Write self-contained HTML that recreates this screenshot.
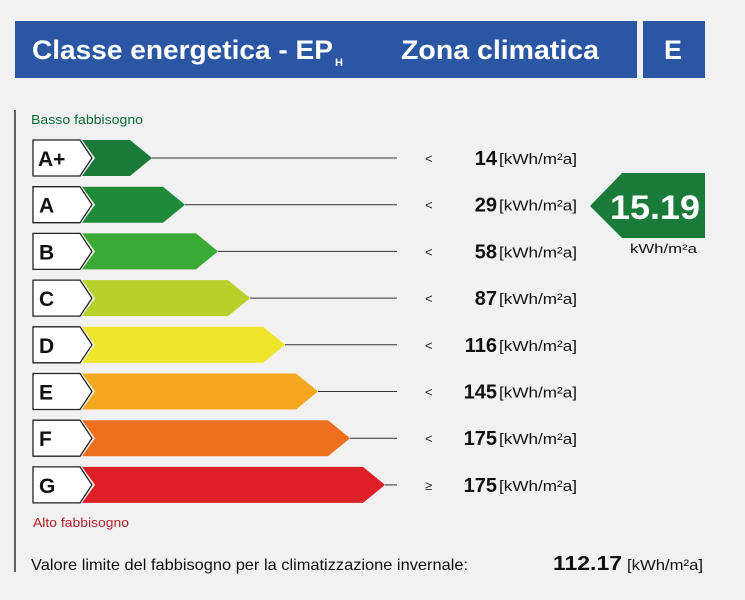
<!DOCTYPE html><html><head><style>body{margin:0;background:#f1f1f1}svg{display:block}text{font-family:"Liberation Sans",sans-serif}</style></head><body>
<svg width="745" height="600" viewBox="0 0 745 600">
<rect width="745" height="600" fill="#f1f1f1"/>
<rect x="15" y="21" width="622" height="57" fill="#2b56a3"/>
<rect x="643" y="21" width="62" height="57" fill="#2b56a3"/>
<text x="32" y="59" fill="#fff" font-size="27" font-weight="bold" textLength="301" lengthAdjust="spacingAndGlyphs">Classe energetica - EP</text>
<text x="335" y="66" fill="#fff" font-size="11" font-weight="bold">H</text>
<text x="401" y="59" fill="#fff" font-size="27" font-weight="bold" textLength="198" lengthAdjust="spacingAndGlyphs">Zona climatica</text>
<text x="664" y="59" fill="#fff" font-size="27" font-weight="bold">E</text>
<line x1="15" y1="110" x2="15" y2="572" stroke="#333" stroke-width="1.5"/>
<text x="31" y="124" fill="#0e6b3a" font-size="13" textLength="112" lengthAdjust="spacingAndGlyphs">Basso fabbisogno</text>
<text x="33" y="527" fill="#b0202a" font-size="13" textLength="96" lengthAdjust="spacingAndGlyphs">Alto fabbisogno</text>

<g stroke="#222" stroke-width="1.3" fill="#fff">
<polygon points="33,140 80,140 92,158 80,176 33,176"/>
<polygon points="33,186.7 80,186.7 92,204.7 80,222.7 33,222.7"/>
<polygon points="33,233.4 80,233.4 92,251.4 80,269.4 33,269.4"/>
<polygon points="33,280.1 80,280.1 92,298.1 80,316.1 33,316.1"/>
<polygon points="33,326.8 80,326.8 92,344.8 80,362.8 33,362.8"/>
<polygon points="33,373.5 80,373.5 92,391.5 80,409.5 33,409.5"/>
<polygon points="33,420.2 80,420.2 92,438.2 80,456.2 33,456.2"/>
<polygon points="33,466.9 80,466.9 92,484.9 80,502.9 33,502.9"/>
</g>
<g>
<polygon points="82,140 130,140 152,158 130,176 82,176 95,158" fill="#1a7a3a"/>
<polygon points="82,186.7 163,186.7 185,204.7 163,222.7 82,222.7 95,204.7" fill="#1f8a3a"/>
<polygon points="82,233.4 196,233.4 218,251.4 196,269.4 82,269.4 95,251.4" fill="#3aaa35"/>
<polygon points="82,280.1 228,280.1 250,298.1 228,316.1 82,316.1 95,298.1" fill="#b8d02a"/>
<polygon points="82,326.8 263,326.8 285,344.8 263,362.8 82,362.8 95,344.8" fill="#eee42a"/>
<polygon points="82,373.5 296,373.5 318,391.5 296,409.5 82,409.5 95,391.5" fill="#f3a81f"/>
<polygon points="82,420.2 328,420.2 350,438.2 328,456.2 82,456.2 95,438.2" fill="#ee6f1f"/>
<polygon points="82,466.9 363,466.9 385,484.9 363,502.9 82,502.9 95,484.9" fill="#dd2027"/>
</g>
<g stroke="#333" stroke-width="1">
<line x1="152" y1="158" x2="397" y2="158"/>
<line x1="185" y1="204.7" x2="397" y2="204.7"/>
<line x1="218" y1="251.4" x2="397" y2="251.4"/>
<line x1="250" y1="298.1" x2="397" y2="298.1"/>
<line x1="285" y1="344.8" x2="397" y2="344.8"/>
<line x1="318" y1="391.5" x2="397" y2="391.5"/>
<line x1="350" y1="438.2" x2="397" y2="438.2"/>
<line x1="385" y1="484.9" x2="397" y2="484.9"/>
</g>
<g font-size="21" fill="#111" font-weight="bold">
<text x="38" y="166">A+</text>
<text x="39" y="212.7">A</text>
<text x="39" y="259.4">B</text>
<text x="39" y="306.1">C</text>
<text x="39" y="352.8">D</text>
<text x="39" y="399.5">E</text>
<text x="39" y="446.2">F</text>
<text x="39" y="492.9">G</text>
</g>
<g font-size="13" fill="#222">
<text x="425" y="163">&lt;</text>
<text x="425" y="209.7">&lt;</text>
<text x="425" y="256.4">&lt;</text>
<text x="425" y="303.1">&lt;</text>
<text x="425" y="349.8">&lt;</text>
<text x="425" y="396.5">&lt;</text>
<text x="425" y="443.2">&lt;</text>
<text x="425" y="489.9">≥</text>
</g>
<g font-size="20" font-weight="bold" fill="#111" text-anchor="end">
<text x="497" y="165">14</text>
<text x="497" y="211.7">29</text>
<text x="497" y="258.4">58</text>
<text x="497" y="305.1">87</text>
<text x="497" y="351.8">116</text>
<text x="497" y="398.5">145</text>
<text x="497" y="445.2">175</text>
<text x="497" y="491.9">175</text>
</g>
<g font-size="15" fill="#111">
<text x="499" y="164" textLength="78" lengthAdjust="spacingAndGlyphs">[kWh/m²a]</text>
<text x="499" y="210.7" textLength="78" lengthAdjust="spacingAndGlyphs">[kWh/m²a]</text>
<text x="499" y="257.4" textLength="78" lengthAdjust="spacingAndGlyphs">[kWh/m²a]</text>
<text x="499" y="304.1" textLength="78" lengthAdjust="spacingAndGlyphs">[kWh/m²a]</text>
<text x="499" y="350.8" textLength="78" lengthAdjust="spacingAndGlyphs">[kWh/m²a]</text>
<text x="499" y="397.5" textLength="78" lengthAdjust="spacingAndGlyphs">[kWh/m²a]</text>
<text x="499" y="444.2" textLength="78" lengthAdjust="spacingAndGlyphs">[kWh/m²a]</text>
<text x="499" y="490.9" textLength="78" lengthAdjust="spacingAndGlyphs">[kWh/m²a]</text>
</g>
<polygon points="590,206 622,173 705,173 705,238 622,238" fill="#1a7a3a"/>
<text x="610" y="219" fill="#fff" font-size="34" font-weight="bold" textLength="90" lengthAdjust="spacingAndGlyphs">15.19</text>
<text x="630" y="253" fill="#111" font-size="13" textLength="67" lengthAdjust="spacingAndGlyphs">kWh/m²a</text>
<text x="31" y="570" fill="#111" font-size="16" textLength="437" lengthAdjust="spacingAndGlyphs">Valore limite del fabbisogno per la climatizzazione invernale:</text>
<text x="553" y="570" fill="#111" font-size="20" font-weight="bold" textLength="69" lengthAdjust="spacingAndGlyphs">112.17</text>
<text x="627" y="570" fill="#111" font-size="15" textLength="76" lengthAdjust="spacingAndGlyphs">[kWh/m²a]</text>
</svg></body></html>
